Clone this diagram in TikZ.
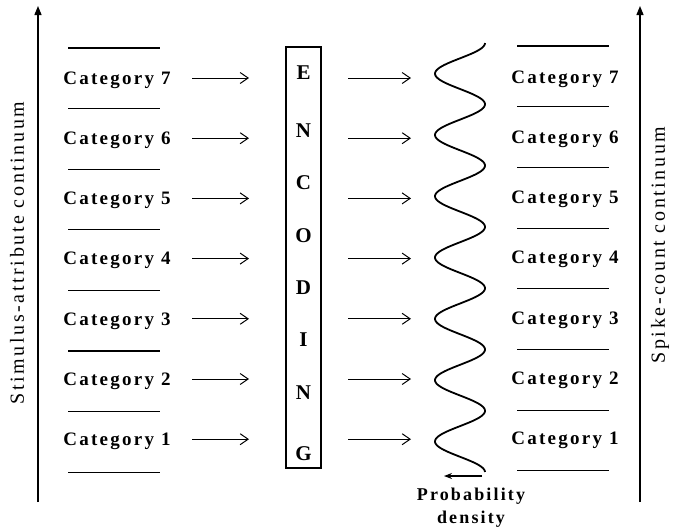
\documentclass[tikz,border=0pt]{standalone}
\usepackage{fontspec}
\setmainfont{Liberation Serif}
\newfontfamily\catfont[LetterSpace=12]{Liberation Serif}
\newfontfamily\axfont[LetterSpace=13]{Liberation Serif}
\usetikzlibrary{arrows.meta}
\begin{document}
\begin{tikzpicture}[x=1pt,y=-1pt,
  cat/.style={font=\catfont\bfseries\fontsize{19}{22}\selectfont, inner sep=0pt},
  letter/.style={font=\bfseries\fontsize{21}{24}\selectfont, inner sep=0pt},
  axlabel/.style={font=\axfont\fontsize{20}{24}\selectfont, rotate=90, inner sep=0pt},
  sep/.style={line width=1.1pt},
  axis/.style={line width=1.3pt, -{Triangle[length=9pt,width=7pt]}},
  flow/.style={line width=1pt, -{Straight Barb[length=8pt,width=11pt,line width=1pt]}},
  wave/.style={line width=1.8pt},
  enc/.style={draw, line width=1.2pt, minimum width=35pt, minimum height=421pt, inner sep=0pt}
]
\useasboundingbox (0,0) rectangle (680,531);

% axes
\coordinate (la0) at (38,502);
\coordinate (la1) at (38,6);
\coordinate (ra0) at (640,502);
\coordinate (ra1) at (640,6);
\draw[axis] (la0) -- (la1);
\draw[axis] (ra0) -- (ra1);
\node[axlabel] (lt) at (17,253) {Stimulus-attribute continuum};
\node[axlabel] (rt) at (660,245) {Spike-count continuum};

% separators
\foreach \j in {0,...,7}{
  \pgfmathsetmacro{\ys}{48+\j*60.6}
  \pgfmathsetmacro{\yr}{46+\j*60.7}
  \coordinate (ls\j a) at (68,\ys);
  \coordinate (ls\j b) at (160,\ys);
  \coordinate (rs\j a) at (517,\yr);
  \coordinate (rs\j b) at (609,\yr);
  \draw[sep] (ls\j a) -- (ls\j b);
  \draw[sep] (rs\j a) -- (rs\j b);
}

% categories and arrows
\foreach \k in {1,...,7}{
  \pgfmathsetmacro{\yk}{78+(7-\k)*60.2}
  \node[cat] (L\k) at (117,\yk+2) {Category \k};
  \node[cat] (R\k) at (565,\yk+1) {Category \k};
  \coordinate (lf\k) at (192,\yk);
  \coordinate (lt\k) at (249,\yk);
  \coordinate (rf\k) at (348,\yk);
  \coordinate (rt\k) at (411,\yk);
  \draw[flow] (lf\k) -- (lt\k);
  \draw[flow] (rf\k) -- (rt\k);
}

% encoding box
\node[enc] (box) at (303.5,257.5) {};
\foreach \c/\y [count=\i] in {E/73,N/131,C/183,O/236,D/288,I/340,N/393,G/454}{
  \node[letter] (e\i) at (303.5,\y) {\c};
}

% probability density curve
\draw[wave] plot[variable=\t, domain=0:7, samples=350, smooth]
  ({460+25*cos(360*\t)}, {43+\t*61.3});
\coordinate (pa) at (482,476);
\coordinate (pb) at (444,476);
\draw[line width=1.2pt, -{Stealth[length=8pt,width=6pt]}] (pa) -- (pb);
\node[cat, align=center, font=\catfont\bfseries\fontsize{18}{23}\selectfont] (pd) at (471,508) {Probability\\density};
\end{tikzpicture}
\end{document}
